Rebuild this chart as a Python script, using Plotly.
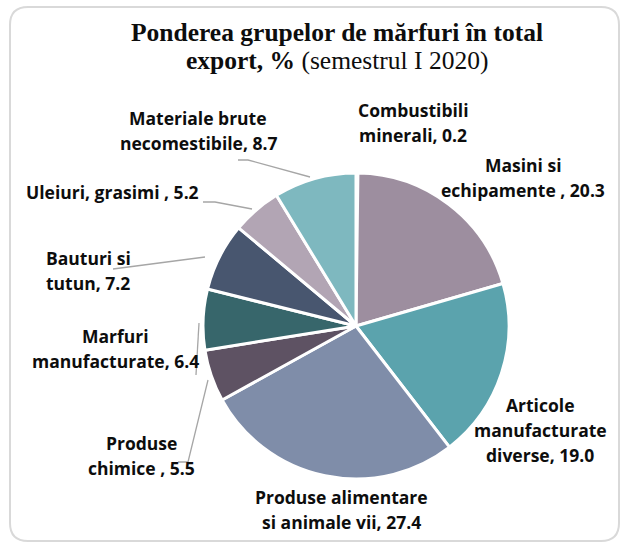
import plotly.graph_objects as go

# Export structure by commodity group, first half of 2020 (%)
categories = [
    "Combustibili minerali",
    "Masini si echipamente",
    "Articole manufacturate diverse",
    "Produse alimentare si animale vii",
    "Produse chimice",
    "Marfuri manufacturate",
    "Bauturi si tutun",
    "Uleiuri, grasimi",
    "Materiale brute necomestibile",
]
values = [0.2, 20.3, 19.0, 27.4, 5.5, 6.4, 7.2, 5.2, 8.7]
colors = ["#4F6F8C", "#9D8E9F", "#5BA3AD", "#7F8DA9", "#5E5263",
          "#37666B", "#48566F", "#B2A5B4", "#7EB8BF"]

# Label text templates (value is filled in from `values`)
label_lines = [
    ["Combustibili", "minerali, {v}"],
    ["Masini si", "echipamente , {v}"],
    ["Articole", "manufacturate", "diverse, {v}"],
    ["Produse alimentare", "si animale vii, {v}"],
    ["Produse", "chimice , {v}"],
    ["Marfuri", "manufacturate, {v}"],
    ["Bauturi si", "tutun, {v}"],
    ["Uleiuri, grasimi , {v}"],
    ["Materiale brute", "necomestibile, {v}"],
]

# Page layout in pixels (figure is 628 x 544)
W, H = 628, 544
CX, CY, R = 356, 326, 153
LINE_H = 25
label_pos = [  # centre x, centre y of first line
    (413, 110), (523, 165), (540, 405), (341, 497), (141, 443),
    (115, 336), (88, 258), (112, 192), (198, 118),
]
leaders = [
    None, None, None, None,
    [(208, 380), (188, 462), (178, 462)],
    [(199, 323), (196, 375)],
    [(113, 269), (205, 257)],
    [(203, 202), (215, 202), (252, 209)],
    [(238, 160), (248, 160), (310, 177)],
]

fig = go.Figure()

fig.add_trace(go.Pie(
    labels=categories,
    values=values,
    sort=False,
    direction="clockwise",
    rotation=0,
    marker=dict(colors=colors, line=dict(color="white", width=3)),
    textinfo="none",
    hoverinfo="label+value",
    showlegend=False,
    domain=dict(x=[(CX - R) / W, (CX + R) / W],
                y=[(H - CY - R) / H, (H - CY + R) / H]),
))

shapes = [dict(
    type="path", xref="x", yref="y",
    path=("M 28 7 L 601 7 Q 619 7 619 25 L 619 523 Q 619 541 601 541 "
          "L 28 541 Q 10 541 10 523 L 10 25 Q 10 7 28 7 Z"),
    line=dict(color="#D9D9D9", width=2), layer="below",
)]
for pts in leaders:
    if pts is None:
        continue
    path = "M " + " L ".join(f"{x} {y}" for x, y in pts)
    shapes.append(dict(type="path", xref="x", yref="y", path=path,
                       line=dict(color="#A6A6A6", width=1.3)))

annotations = []
label_font = dict(family="Open Sans", size=17.5, color="#0D0D0D")
for lines, v, (lx, ly) in zip(label_lines, values, label_pos):
    for i, ln in enumerate(lines):
        annotations.append(dict(
            x=lx, y=ly + i * LINE_H, xref="x", yref="y",
            text="<b>" + ln.format(v=f"{v:.1f}") + "</b>",
            showarrow=False, xanchor="center", yanchor="middle",
            font=label_font,
        ))

title_font = dict(family="Liberation Serif", size=25.5, color="#0D0D0D")
annotations.append(dict(
    x=337, y=32, xref="x", yref="y", showarrow=False,
    text="<b>Ponderea grupelor de mărfuri în total</b>",
    xanchor="center", yanchor="middle", font=title_font,
))
annotations.append(dict(
    x=337, y=60, xref="x", yref="y", showarrow=False,
    text="<b>export, %</b> (semestrul I 2020)",
    xanchor="center", yanchor="middle", font=title_font,
))

fig.update_layout(
    width=W, height=H,
    margin=dict(l=0, r=0, t=0, b=0),
    paper_bgcolor="white", plot_bgcolor="rgba(0,0,0,0)",
    xaxis=dict(range=[0, W], visible=False, fixedrange=True),
    yaxis=dict(range=[H, 0], visible=False, fixedrange=True),
    shapes=shapes,
    annotations=annotations,
)

fig.write_html("out.html")
